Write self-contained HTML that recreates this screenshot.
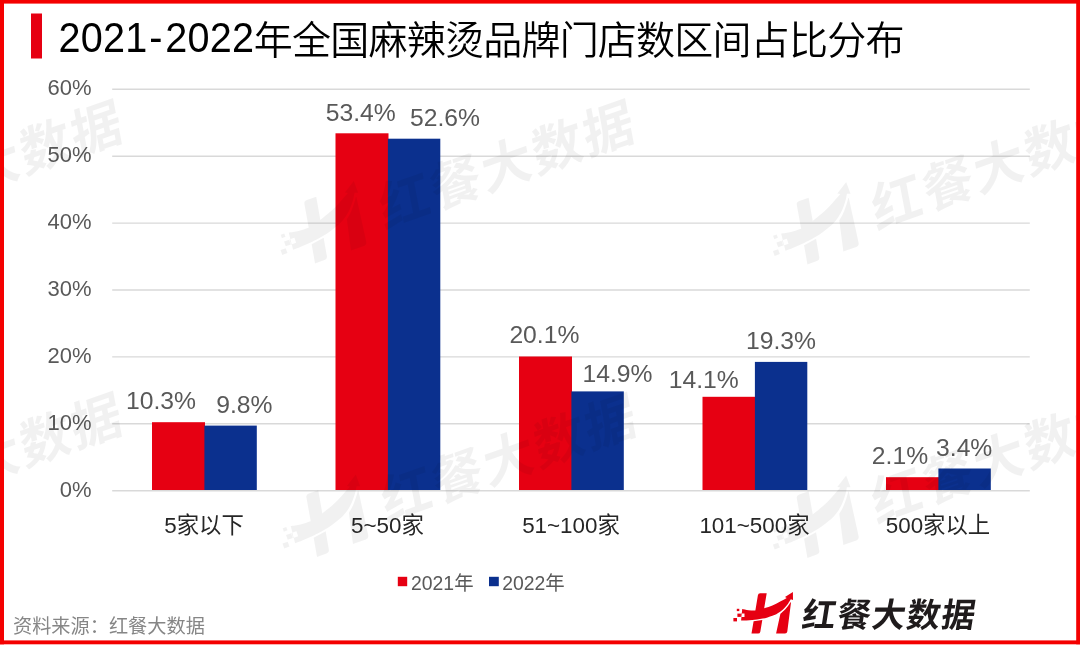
<!DOCTYPE html>
<html lang="zh-CN"><head><meta charset="utf-8"><title>2021-2022年全国麻辣烫品牌门店数区间占比分布</title>
<style>
html,body{margin:0;padding:0;background:#fff;}
body{width:1080px;height:647px;overflow:hidden;position:relative;}
svg{position:absolute;left:0;top:0;display:block;}
text{font-family:"Liberation Sans","Noto Sans CJK SC",sans-serif;}
.ttl{font-size:40px;fill:#000;font-weight:400;}
.ax{font-size:22px;fill:#595959;}
.dl{font-size:24.7px;fill:#595959;}
.cat{font-size:22.4px;fill:#262626;}
.lg{font-size:19.4px;fill:#595959;}
.src{font-size:19.2px;fill:#868686;}
.logo{font-family:"Liberation Sans","Noto Sans CJK SC",sans-serif;font-weight:700;font-size:33.5px;}
</style></head><body>
<svg width="1080" height="647" viewBox="0 0 1080 647">
<defs>
<g id="hmark">
<path fill-rule="evenodd" d="M12.20 21.10 C13.25 21.30 16.33 22.05 18.50 22.30 C20.67 22.55 23.28 22.68 25.20 22.60 C27.12 22.52 28.37 22.23 30.00 21.80 C31.63 21.37 32.93 20.73 35.00 20.00 C37.07 19.27 39.93 18.43 42.40 17.40 C44.87 16.37 47.42 15.03 49.80 13.80 C52.18 12.57 55.55 10.63 56.70 10.00 L55.0 9.0 L62.9 3.9 L63.0 12.0 L60.8 11.3 L60.0 12.6 C59.70 13.08 58.90 14.52 58.20 15.50 C57.50 16.48 56.67 17.50 55.80 18.50 C54.93 19.50 54.00 20.57 53.00 21.50 C52.00 22.43 50.92 23.32 49.80 24.10 C48.68 24.88 47.53 25.58 46.30 26.20 C45.07 26.82 43.87 27.27 42.40 27.80 C40.93 28.33 39.13 28.93 37.50 29.40 C35.87 29.87 34.35 30.25 32.60 30.60 C30.85 30.95 28.73 31.27 27.00 31.50 C25.27 31.73 23.95 31.85 22.20 32.00 C20.45 32.15 18.35 32.30 16.50 32.40 C14.65 32.50 12.00 32.57 11.10 32.60 Z M11.1 25.6 H14.5 V28.9 H11.1 Z"/>
<path d="M30.2 5.3 H36.7 L33.2 26 H24.8 L27.9 7.2 Q28.2 5.3 30.2 5.3 Z"/>
<path d="M23.6 33.2 L32.3 31.9 L30.3 43.7 Q30.0 45.6 28.0 45.6 H21.5 Z"/>
<path d="M50.40 25.70 C50.97 25.22 52.73 23.85 53.80 22.80 C54.87 21.75 55.92 20.47 56.80 19.40 C57.68 18.33 58.43 17.32 59.10 16.40 C59.77 15.48 60.52 14.32 60.80 13.90 L61.0 14.4 L57.3 43.6 Q57.0 45.6 55.0 45.6 L46.1 45.6 Z"/>
<rect x="6.8" y="20.8" width="2.5" height="2.3"/><rect x="7.4" y="25.6" width="3.5" height="3.3"/><rect x="3.4" y="30.0" width="3.6" height="3.4"/>
</g>
<g id="logo"><use href="#hmark"/><text class="logo" transform="translate(70.8,39.2) skewX(-9)" x="0" y="0" letter-spacing="1.35">红餐大数据</text></g>
</defs>
<rect x="0" y="0" width="1080" height="647" fill="#fff"/>
<line x1="112.2" y1="89.30" x2="1029.8" y2="89.30" stroke="#d9d9d9" stroke-width="1.4"/>
<line x1="112.2" y1="156.20" x2="1029.8" y2="156.20" stroke="#d9d9d9" stroke-width="1.4"/>
<line x1="112.2" y1="223.10" x2="1029.8" y2="223.10" stroke="#d9d9d9" stroke-width="1.4"/>
<line x1="112.2" y1="290.00" x2="1029.8" y2="290.00" stroke="#d9d9d9" stroke-width="1.4"/>
<line x1="112.2" y1="356.90" x2="1029.8" y2="356.90" stroke="#d9d9d9" stroke-width="1.4"/>
<line x1="112.2" y1="423.80" x2="1029.8" y2="423.80" stroke="#d9d9d9" stroke-width="1.4"/>
<line x1="112.2" y1="490.70" x2="1029.8" y2="490.70" stroke="#d9d9d9" stroke-width="1.4"/>
<text class="ax" x="91.5" y="94.8" text-anchor="end">60%</text>
<text class="ax" x="91.5" y="161.8" text-anchor="end">50%</text>
<text class="ax" x="91.5" y="228.9" text-anchor="end">40%</text>
<text class="ax" x="91.5" y="295.9" text-anchor="end">30%</text>
<text class="ax" x="91.5" y="363.0" text-anchor="end">20%</text>
<text class="ax" x="91.5" y="430.1" text-anchor="end">10%</text>
<text class="ax" x="91.5" y="497.1" text-anchor="end">0%</text>
<rect x="152.0" y="422.2" width="53.0" height="67.8" fill="#e60012"/>
<rect x="204.4" y="425.6" width="52.4" height="64.4" fill="#0b308e"/>
<rect x="335.5" y="133.3" width="53.0" height="356.7" fill="#e60012"/>
<rect x="387.9" y="138.7" width="52.4" height="351.3" fill="#0b308e"/>
<rect x="519.0" y="356.5" width="53.0" height="133.5" fill="#e60012"/>
<rect x="571.4" y="391.4" width="52.4" height="98.6" fill="#0b308e"/>
<rect x="702.5" y="396.8" width="53.0" height="93.2" fill="#e60012"/>
<rect x="754.9" y="361.9" width="52.4" height="128.1" fill="#0b308e"/>
<rect x="886.0" y="477.2" width="53.0" height="12.8" fill="#e60012"/>
<rect x="938.4" y="468.5" width="52.4" height="21.5" fill="#0b308e"/>
<text class="dl" x="161.0" y="408.9" text-anchor="middle">10.3%</text>
<text class="dl" x="244.3" y="413.0" text-anchor="middle">9.8%</text>
<text class="dl" x="360.8" y="120.7" text-anchor="middle">53.4%</text>
<text class="dl" x="445.0" y="126.0" text-anchor="middle">52.6%</text>
<text class="dl" x="544.4" y="343.0" text-anchor="middle">20.1%</text>
<text class="dl" x="617.5" y="381.5" text-anchor="middle">14.9%</text>
<text class="dl" x="703.8" y="388.2" text-anchor="middle">14.1%</text>
<text class="dl" x="781.0" y="348.5" text-anchor="middle">19.3%</text>
<text class="dl" x="900.0" y="463.9" text-anchor="middle">2.1%</text>
<text class="dl" x="964.2" y="455.5" text-anchor="middle">3.4%</text>
<text class="cat" x="204.0" y="532.5" text-anchor="middle">5家以下</text>
<text class="cat" x="387.5" y="532.5" text-anchor="middle">5~50家</text>
<text class="cat" x="571.0" y="532.5" text-anchor="middle">51~100家</text>
<text class="cat" x="754.5" y="532.5" text-anchor="middle">101~500家</text>
<text class="cat" x="938.0" y="532.5" text-anchor="middle">500家以上</text>
<rect x="397.8" y="576.8" width="9.4" height="9.4" fill="#e60012"/>
<text class="lg" x="411" y="589.7">2021年</text>
<rect x="489" y="576.8" width="9.8" height="9.4" fill="#0b308e"/>
<text class="lg" x="502.2" y="589.7">2022年</text>
<text class="src" x="13.0" y="632.5">资料来源：红餐大数据</text>
<g transform="translate(730,588)"><g fill="#e60012"><use href="#hmark"/></g><text class="logo" fill="#1f1b1c" transform="translate(70.8,39.2) skewX(-9)" letter-spacing="1.35">红餐大数据</text></g>
<rect x="31" y="13.5" width="11" height="45" fill="#e60012"/>
<text class="ttl" transform="translate(58.4,52.4) scale(1,1.05)" style="font-size:39.6px" letter-spacing="0.3">2021<tspan dx="1.6">-</tspan><tspan dx="2.4">2022</tspan></text>
<text class="ttl" x="253.8" y="54.0" style="font-size:39px;font-family:'Liberation Sans','Noto Sans CJK SC DemiLight','Noto Sans CJK SC',sans-serif" letter-spacing="-0.77">年全国麻辣烫品牌门店数区间占比分布</text>
<g transform="translate(288,273) rotate(-19.6) scale(1.55) translate(-3,-45.6)" opacity="0.05"><use href="#logo"/></g>
<g transform="translate(780.4,274) rotate(-19.6) scale(1.55) translate(-3,-45.6)" opacity="0.05"><use href="#logo"/></g>
<g transform="translate(-224,273) rotate(-19.6) scale(1.55) translate(-3,-45.6)" opacity="0.05"><use href="#logo"/></g>
<g transform="translate(290,566.5) rotate(-19.6) scale(1.55) translate(-3,-45.6)" opacity="0.05"><use href="#logo"/></g>
<g transform="translate(780.4,567.5) rotate(-19.6) scale(1.55) translate(-3,-45.6)" opacity="0.05"><use href="#logo"/></g>
<g transform="translate(-224,565.5) rotate(-19.6) scale(1.55) translate(-3,-45.6)" opacity="0.05"><use href="#logo"/></g>
<g fill="#f40000"><rect x="0" y="0" width="1080" height="3.6"/><rect x="0" y="0" width="4" height="644.3"/><rect x="1076.2" y="0" width="3.8" height="644.3"/><rect x="0" y="640.4" width="1080" height="3.9"/></g>
</svg>
</body></html>
